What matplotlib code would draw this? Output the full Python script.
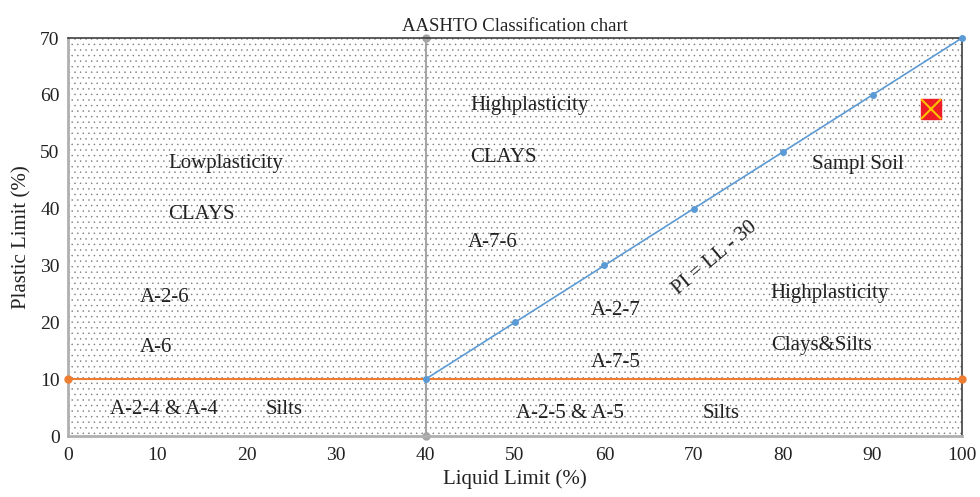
import numpy as np
import matplotlib.pyplot as plt
from matplotlib.patches import Rectangle

plt.rcParams['font.family'] = ['Liberation Serif', 'DejaVu Serif']
plt.rcParams['hatch.linewidth'] = 0.3

# Data
a_line_ll = [40, 50, 60, 70, 80, 90, 100]
a_line_pi = [10, 20, 30, 40, 50, 60, 70]
pi10_ll = [0, 100]
pi10_pi = [10, 10]
ll40_ll = [40, 40]
ll40_pi = [0, 70]
sample_ll = [96.5]
sample_pi = [57.5]

labels = ['Highplasticity', 'CLAYS', 'Lowplasticity', 'CLAYS', 'A-7-6', 'A-2-6', 'A-6',
          'A-2-4 & A-4', 'Silts', 'A-2-7', 'A-7-5', 'A-2-5 & A-5', 'Silts',
          'Sampl Soil', 'Highplasticity', 'Clays&Silts']
label_x = [45, 45, 11.2, 11.2, 44.7, 8, 8, 4.7, 22.1, 58.5, 58.5, 50.1, 71, 83.2, 78.6, 78.6]
label_y = [58.2, 48.9, 48, 38.9, 34, 24.4, 15.5, 4.7, 4.7, 22, 13, 4, 4, 47.7, 25, 16]

fig, ax = plt.subplots(figsize=(9.8, 4.97), dpi=100)
fig.subplots_adjust(left=0.0694, right=0.9816, top=0.9235, bottom=0.1227)

# dotted background pattern
ax.add_patch(Rectangle((0, 0), 100, 70, facecolor='white', edgecolor='#777777',
                       lw=0, hatch='...', zorder=0))

ax.plot(ll40_ll, ll40_pi, color='#a5a5a5', lw=1.5, marker='o', ms=5, zorder=2, clip_on=False)
ax.plot(pi10_ll, pi10_pi, color='#ed7d31', lw=1.5, marker='o', ms=5, zorder=3, clip_on=False)
ax.plot(a_line_ll, a_line_pi, color='#5b9bd5', lw=1.2, marker='o', ms=4, zorder=4, clip_on=False)
ax.plot(sample_ll, sample_pi, marker='s', ms=15, color='#ee1c25', mec='#ee1c25', ls='none', zorder=5)
ax.plot(sample_ll, sample_pi, marker='x', ms=14, color='#ffc000', mew=1.5, ls='none', zorder=6)

for t, x, y in zip(labels, label_x, label_y):
    ax.text(x, y, t, fontsize=15, ha='left', va='center', color='#222222', zorder=7)
ax.text(72.4, 31.3, 'PI = LL - 30', fontsize=15, rotation=40, ha='center', va='center',
        color='#222222', zorder=7)

ax.set_xlim(0, 100)
ax.set_ylim(0, 70)
ax.set_xticks(np.arange(0, 101, 10))
ax.set_yticks(np.arange(0, 71, 10))
ax.tick_params(length=0, labelsize=14, colors='#222222')
ax.tick_params(axis='x', pad=8)
ax.tick_params(axis='y', pad=6)
ax.set_xlabel('Liquid Limit (%)', fontsize=15, color='#222222', labelpad=4)
ax.set_ylabel('Plastic Limit (%)', fontsize=15, color='#222222', labelpad=6)
ax.set_title('AASHTO Classification chart', fontsize=13.5, color='#222222', pad=5)

for s in ['left', 'bottom']:
    ax.spines[s].set_color('#b0b0b0')
    ax.spines[s].set_linewidth(2)
for s in ['top', 'right']:
    ax.spines[s].set_color('#404040')
    ax.spines[s].set_linewidth(1.2)

fig.savefig('out.png', dpi=100)
